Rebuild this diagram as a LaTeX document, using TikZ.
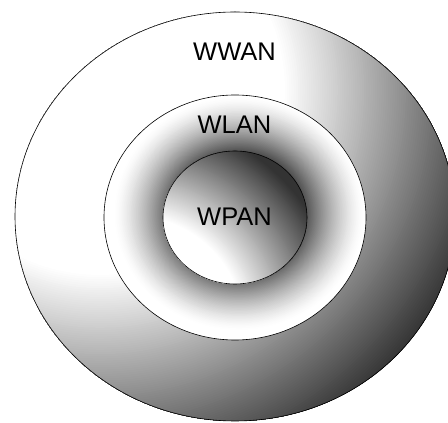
\documentclass[tikz,border=0pt]{standalone}
\usepackage{fontspec}
\setmainfont{Liberation Sans}
\usetikzlibrary{shapes.geometric}
\tikzset{
  zone/.style={ellipse, draw=black, line width=0.6pt, inner sep=0pt},
  lbl/.style={font=\fontsize{25.5}{30}\selectfont, text=black, inner sep=0pt}
}
\begin{document}
\begin{tikzpicture}[x=1pt,y=1pt]
\useasboundingbox (0,0) rectangle (448,423);
% ---- outer zone shading: radial bands about the upper left
\begin{scope}
  \clip (235,206.5) ellipse [x radius=220, y radius=204.5];
  \fill[black!81] (235,206.5) ellipse [x radius=221, y radius=205.5];
  \foreach \i in {0,...,100} {
    \pgfmathsetmacro\rr{405-2.2*\i}
    \pgfmathsetmacro\kk{81*(1-\i/100)}
    \fill[black!\kk] (100,333) circle (\rr);
  }
\end{scope}
\node[zone, minimum width=440pt, minimum height=409pt] (wwan) at (235,206.5) {};
% ---- middle zone shading: elliptic bands, darkest near the centre
\begin{scope}
  \clip (235,205.5) ellipse [x radius=131, y radius=122.5];
  \fill[white] (235,205.5) ellipse [x radius=132, y radius=123.5];
  \foreach \i in {0,...,100} {
    \pgfmathsetmacro\ss{0.95-\i*0.005}
    \pgfmathsetmacro\dd{0.95-\ss+0.001}
    \pgfmathsetmacro\kk{min(80,214*pow(\dd,1.4))}
    \pgfmathsetmacro\rx{\ss*131}
    \pgfmathsetmacro\ry{\ss*122.5}
    \fill[black!\kk] (239,209.5) ellipse [x radius=\rx, y radius=\ry];
  }
\end{scope}
\node[zone, minimum width=262pt, minimum height=245pt] (wlan) at (235,205.5) {};
% ---- inner zone shading: radial bands about the lower left
\begin{scope}
  \clip (235,205.5) ellipse [x radius=72, y radius=66.5];
  \fill[black!80] (235,205.5) ellipse [x radius=73, y radius=67.5];
  \foreach \i in {0,...,100} {
    \pgfmathsetmacro\rr{215-\i}
    \pgfmathsetmacro\kk{80*(1-\i/100)}
    \fill[black!\kk] (130,93) circle (\rr);
  }
\end{scope}
\node[zone, minimum width=144pt, minimum height=133pt] (wpan) at (235,205.5) {};
\node[lbl] (twwan) at (234.5,371.3) {WWAN};
\node[lbl] (twlan) at (234.5,298) {WLAN};
\node[lbl] (twpan) at (234.5,206.6) {WPAN};
\end{tikzpicture}
\end{document}
